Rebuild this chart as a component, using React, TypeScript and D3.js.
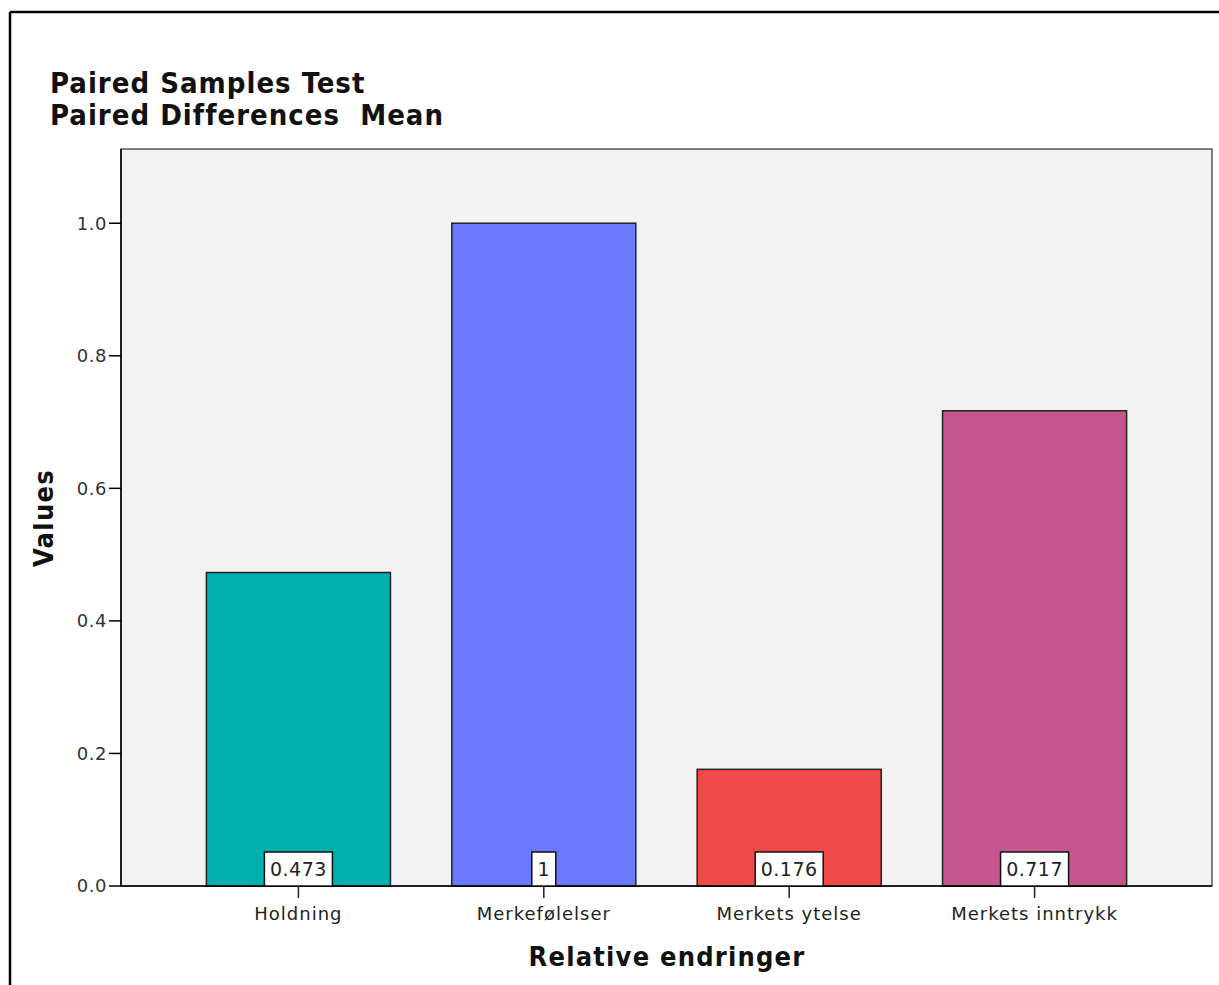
import React from "react";
import * as d3 from "d3";

const categories = ["Holdning", "Merkefølelser", "Merkets ytelse", "Merkets inntrykk"];
const values = [0.473, 1, 0.176, 0.717];
const valueLabels = ["0.473", "1", "0.176", "0.717"];
const colors = ["#00B0AE", "#6C78FE", "#EF4A47", "#C5558F"];
const yTicks = [0, 0.2, 0.4, 0.6, 0.8, 1.0];
const titleLines = ["Paired Samples Test", "Paired Differences  Mean"];
const xTitle = "Relative endringer";
const yTitle = "Values";

const W = 1219;
const H = 985;
const plot = { left: 121, top: 149, right: 1212, bottom: 886 };
const FONT_C = "'DejaVu Sans Condensed', 'DejaVu Sans', sans-serif";
const FONT = "'DejaVu Sans', sans-serif";

export default function App() {
  const x = d3
    .scaleBand<string>()
    .domain(categories)
    .range([plot.left, plot.right])
    .paddingInner(0.25)
    .paddingOuter(0.348);
  const y = d3.scaleLinear().domain([0, 1.112]).range([plot.bottom, plot.top]);

  const labelW = (s: string) => (s.length === 1 ? 24 : 68);

  return (
    <svg
      width={W}
      height={H}
      style={{ position: "absolute", left: 0, top: 0, background: "#fff" }}
    >
      {/* outer frame */}
      <line x1={10} y1={12} x2={W} y2={12} stroke="#000" strokeWidth={2.5} />
      <line x1={10} y1={12} x2={10} y2={H} stroke="#000" strokeWidth={2.5} />

      {/* titles */}
      {titleLines.map((t, i) => (
        <text
          key={t}
          x={50}
          y={93 + i * 32}
          fontFamily={FONT_C}
          fontWeight="bold"
          fontSize={29}
          letterSpacing={1}
          fill="#111"
          style={{ whiteSpace: "pre" }}
        >
          {t}
        </text>
      ))}

      {/* plot background */}
      <rect
        x={plot.left}
        y={plot.top}
        width={plot.right - plot.left}
        height={plot.bottom - plot.top}
        fill="#F2F2F2"
        stroke="#555"
        strokeWidth={1.5}
      />

      {/* bars */}
      {categories.map((c, i) => (
        <rect
          key={c}
          x={x(c)}
          y={y(values[i])}
          width={x.bandwidth()}
          height={y(0) - y(values[i])}
          fill={colors[i]}
          stroke="#222"
          strokeWidth={1.5}
        />
      ))}

      {/* axes lines */}
      <line x1={plot.left} y1={plot.top} x2={plot.left} y2={plot.bottom} stroke="#000" strokeWidth={1.5} />
      <line x1={plot.left} y1={plot.bottom} x2={plot.right} y2={plot.bottom} stroke="#000" strokeWidth={1.5} />

      {/* y ticks */}
      {yTicks.map((t) => (
        <g key={t}>
          <line x1={plot.left - 12} x2={plot.left} y1={y(t)} y2={y(t)} stroke="#000" strokeWidth={1.5} />
          <text
            x={plot.left - 14}
            y={y(t)}
            dy="0.35em"
            textAnchor="end"
            fontFamily={FONT}
            fontSize={18}
            letterSpacing={0.5}
            fill="#333"
          >
            {d3.format(".1f")(t)}
          </text>
        </g>
      ))}

      {/* x ticks and labels */}
      {categories.map((c) => {
        const cx = (x(c) as number) + x.bandwidth() / 2;
        return (
          <g key={c}>
            <line x1={cx} x2={cx} y1={plot.bottom} y2={plot.bottom + 12} stroke="#222" strokeWidth={1.5} />
            <text
              x={cx}
              y={920}
              textAnchor="middle"
              fontFamily={FONT}
              fontSize={18}
              letterSpacing={1}
              fill="#222"
            >
              {c}
            </text>
          </g>
        );
      })}

      {/* value labels */}
      {categories.map((c, i) => {
        const cx = (x(c) as number) + x.bandwidth() / 2;
        const w = labelW(valueLabels[i]);
        return (
          <g key={c + "-lab"}>
            <rect
              x={cx - w / 2}
              y={plot.bottom - 34}
              width={w}
              height={34}
              fill="#fff"
              stroke="#111"
              strokeWidth={1.5}
            />
            <text
              x={cx}
              y={plot.bottom - 17}
              dy="0.36em"
              textAnchor="middle"
              fontFamily={FONT}
              fontSize={19}
              letterSpacing={0.5}
              fill="#222"
            >
              {valueLabels[i]}
            </text>
          </g>
        );
      })}

      {/* axis titles */}
      <text
        x={667}
        y={966}
        textAnchor="middle"
        fontFamily={FONT_C}
        fontWeight="bold"
        fontSize={27}
        letterSpacing={1.2}
        fill="#111"
      >
        {xTitle}
      </text>
      <text
        transform={`translate(53, 518) rotate(-90)`}
        textAnchor="middle"
        fontFamily={FONT_C}
        fontWeight="bold"
        fontSize={27}
        letterSpacing={1.3}
        fill="#111"
      >
        {yTitle}
      </text>
    </svg>
  );
}
